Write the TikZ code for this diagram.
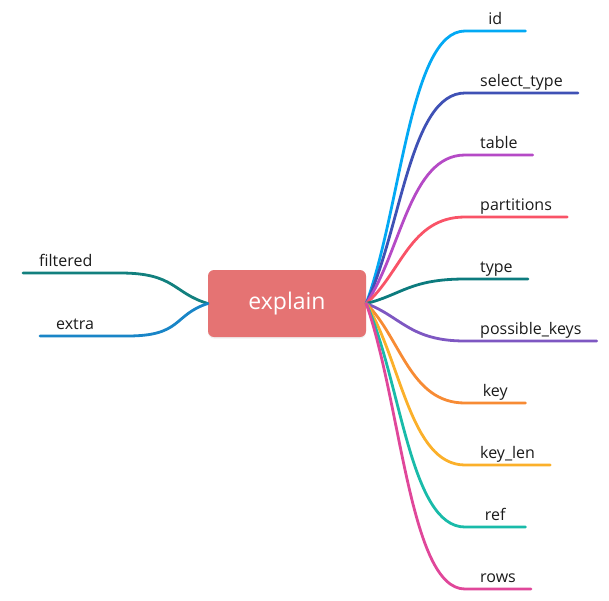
\documentclass[tikz,border=0pt]{standalone}
\usepackage{fontspec}
\setmainfont{Open Sans}
\usetikzlibrary{positioning,calc,shadows}
\definecolor{Ink}{HTML}{1A1A1A}
\definecolor{RootFill}{HTML}{E57373}
\definecolor{CId}{HTML}{03A9F4}
\definecolor{CSel}{HTML}{3F51B5}
\definecolor{CTable}{HTML}{B54AC6}
\definecolor{CPart}{HTML}{F95367}
\definecolor{CType}{HTML}{0C7B7E}
\definecolor{CPoss}{HTML}{7E57C2}
\definecolor{CKey}{HTML}{F78B34}
\definecolor{CKeyLen}{HTML}{FBB02A}
\definecolor{CRef}{HTML}{19BBA9}
\definecolor{CRows}{HTML}{E0479A}
\definecolor{CFilt}{HTML}{12807E}
\definecolor{CExtra}{HTML}{1985C7}
\tikzset{
  rootbox/.style={fill=RootFill,rounded corners=6pt,minimum width=158pt,minimum height=67pt,font=\fontsize{23}{26}\selectfont,text=white,drop shadow={opacity=0.12,shadow xshift=0pt,shadow yshift=-1.5pt}},
  leafbox/.style={font=\fontsize{16}{18}\selectfont,text=Ink,minimum width=60pt,inner xsep=15pt,inner ysep=3pt,text height=12pt,text depth=3pt,anchor=south west},
  sidebox/.style={leafbox,align=left,inner xsep=16pt},
  branch/.style={line width=2.8pt,line cap=round}
}

\begin{document}
\begin{tikzpicture}[x=1pt,y=-1pt]
  \useasboundingbox (0,0) rectangle (609,600);
  \node[rootbox] (explain) at (287,303.5) {explain};
  % right branches
  \foreach \name/\txt/\yy/\col in {id/id/31/CId, sel/select\_type/93/CSel, tab/table/155/CTable,
      part/partitions/217/CPart, type/type/279/CType, poss/possible\_keys/341/CPoss,
      key/key/403/CKey, keylen/key\_len/465/CKeyLen, ref/ref/527/CRef, rows/rows/589/CRows}
  {
    \node[leafbox] (\name) at (465,\yy) {\txt};
    \pgfmathsetmacro{\dy}{0.35*(\yy-303.5)}
    \draw[branch,\col] (explain.east) .. controls +(35,\dy) and +(-55,0) .. (\name.south west) -- (\name.south east);
  }
  % left branches
  \node[sidebox,text width=65pt] (filtered) at (23,273) {filtered};
  \node[sidebox,text width=55pt] (extra) at (40,336) {extra};
  \draw[branch,CFilt] (explain.west) .. controls +(-35,-10.5) and +(55,0) .. (filtered.south east) -- (filtered.south west);
  \draw[branch,CExtra] (explain.west) .. controls +(-35,11.5) and +(55,0) .. (extra.south east) -- (extra.south west);
\end{tikzpicture}
\end{document}
